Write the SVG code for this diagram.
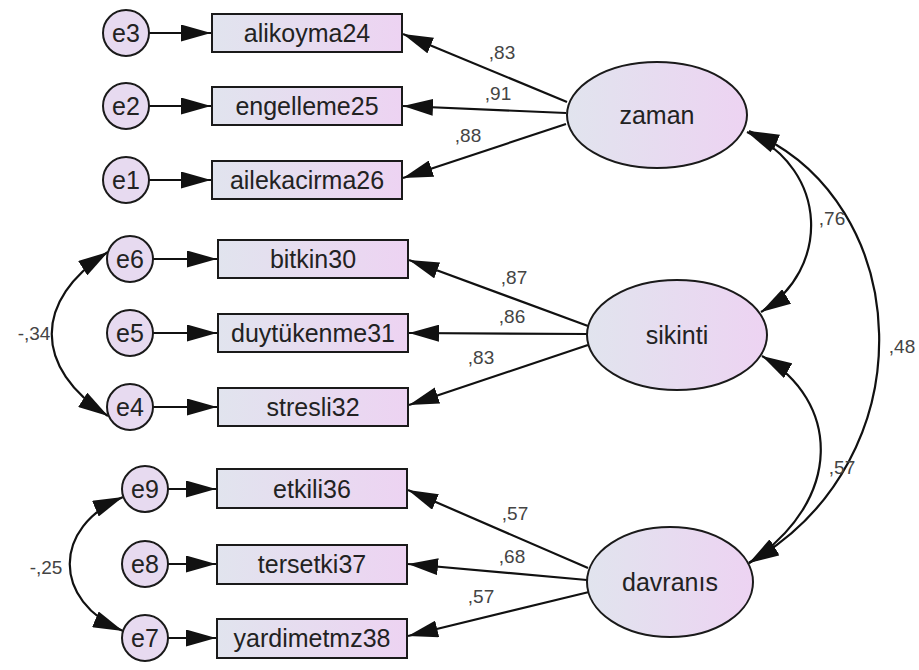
<svg xmlns="http://www.w3.org/2000/svg" width="919" height="670" viewBox="0 0 919 670">
<defs>
<linearGradient id="g" x1="0" y1="0" x2="1" y2="0">
<stop offset="0" stop-color="#e1e4ee"/>
<stop offset="1" stop-color="#edd3f2"/>
</linearGradient>
<marker id="ah" viewBox="0 0 30 17" markerWidth="30" markerHeight="17" refX="30" refY="8.5" orient="auto-start-reverse" markerUnits="userSpaceOnUse">
<path d="M0,0 L30,8.5 L0,17 z" fill="#111"/>
</marker>
<style>
.n rect,.n ellipse{fill:url(#g);stroke:#1a1a1a;stroke-width:2}
.n circle{fill:#e7daf0;stroke:#1a1a1a;stroke-width:2}
.n text{font-family:"Liberation Sans",Arial,sans-serif;font-size:25px;fill:#222;text-anchor:middle}
.c path{fill:none;stroke:#111;stroke-width:2.2}
.lab text{font-family:"Liberation Sans",Arial,sans-serif;font-size:19px;fill:#444;text-anchor:middle}
</style>
</defs>
<rect width="919" height="670" fill="#fff"/>
<g id="connectors" class="c">
<path d="M149,33 L211,33" marker-end="url(#ah)"/>
<path d="M149,106 L211,106" marker-end="url(#ah)"/>
<path d="M149,180 L211,180" marker-end="url(#ah)"/>
<path d="M153,259 L217,259" marker-end="url(#ah)"/>
<path d="M153,333 L217,333" marker-end="url(#ah)"/>
<path d="M153,407 L217,407" marker-end="url(#ah)"/>
<path d="M168,489 L216,489" marker-end="url(#ah)"/>
<path d="M168,564 L216,564" marker-end="url(#ah)"/>
<path d="M168,638 L216,638" marker-end="url(#ah)"/>
<path d="M567,102 L403,34" marker-end="url(#ah)"/>
<path d="M566,113 L403,106" marker-end="url(#ah)"/>
<path d="M566,124 L403,178" marker-end="url(#ah)"/>
<path d="M588,326 L409,260" marker-end="url(#ah)"/>
<path d="M587,334 L409,333" marker-end="url(#ah)"/>
<path d="M588,345 L409,405" marker-end="url(#ah)"/>
<path d="M588,568 L408,490" marker-end="url(#ah)"/>
<path d="M587,580 L408,564" marker-end="url(#ah)"/>
<path d="M589,592 L408,636" marker-end="url(#ah)"/>
<path d="M108,252 C33,300 33,368 108,416" marker-start="url(#ah)" marker-end="url(#ah)"/>
<path d="M123,497 C52,527 52,601 123,631" marker-start="url(#ah)" marker-end="url(#ah)"/>
<path d="M747,132 C830,170 830,270 761,312" marker-start="url(#ah)" marker-end="url(#ah)"/>
<path d="M762,356 C840,400 845,500 749,563" marker-start="url(#ah)" marker-end="url(#ah)"/>
<path d="M749,131 C915,200 930,460 749,563" marker-start="url(#ah)" marker-end="url(#ah)"/>
</g>
<g id="e3" class="n"><circle cx="126" cy="33" r="23"/><text x="126" y="42">e3</text></g>
<g id="e2" class="n"><circle cx="126" cy="106" r="23"/><text x="126" y="115">e2</text></g>
<g id="e1" class="n"><circle cx="126" cy="180" r="23"/><text x="126" y="189">e1</text></g>
<g id="e6" class="n"><circle cx="130" cy="259" r="23"/><text x="130" y="268">e6</text></g>
<g id="e5" class="n"><circle cx="130" cy="333" r="23"/><text x="130" y="342">e5</text></g>
<g id="e4" class="n"><circle cx="130" cy="407" r="23"/><text x="130" y="416">e4</text></g>
<g id="e9" class="n"><circle cx="145" cy="489" r="23"/><text x="145" y="498">e9</text></g>
<g id="e8" class="n"><circle cx="145" cy="564" r="23"/><text x="145" y="573">e8</text></g>
<g id="e7" class="n"><circle cx="145" cy="638" r="23"/><text x="145" y="647">e7</text></g>
<g id="alikoyma24" class="n"><rect x="212" y="14" width="190" height="38"/><text x="307" y="42">alikoyma24</text></g>
<g id="engelleme25" class="n"><rect x="212" y="87" width="190" height="38"/><text x="307" y="115">engelleme25</text></g>
<g id="ailekacirma26" class="n"><rect x="212" y="161" width="190" height="38"/><text x="307" y="189">ailekacirma26</text></g>
<g id="bitkin30" class="n"><rect x="218" y="240" width="190" height="38"/><text x="313" y="268">bitkin30</text></g>
<g id="duytukenme31" class="n"><rect x="218" y="314" width="190" height="38"/><text x="313" y="342">duytükenme31</text></g>
<g id="stresli32" class="n"><rect x="218" y="388" width="190" height="38"/><text x="313" y="416">stresli32</text></g>
<g id="etkili36" class="n"><rect x="217" y="469" width="190" height="39"/><text x="312" y="498">etkili36</text></g>
<g id="tersetki37" class="n"><rect x="217" y="545" width="190" height="39"/><text x="312" y="573">tersetki37</text></g>
<g id="yardimetmz38" class="n"><rect x="217" y="619" width="190" height="39"/><text x="312" y="647">yardimetmz38</text></g>
<g id="zaman" class="n"><ellipse cx="657" cy="115" rx="90" ry="53"/><text x="657" y="124">zaman</text></g>
<g id="sikinti" class="n"><ellipse cx="677" cy="335" rx="90" ry="55"/><text x="677" y="344">sikinti</text></g>
<g id="davranis" class="n"><ellipse cx="670" cy="582" rx="83" ry="55"/><text x="670" y="591">davranıs</text></g>
<g id="labels" class="lab">
<text x="502" y="59">,83</text>
<text x="498" y="100">,91</text>
<text x="468" y="142">,88</text>
<text x="514" y="284">,87</text>
<text x="512" y="323">,86</text>
<text x="481" y="364">,83</text>
<text x="515" y="520">,57</text>
<text x="512" y="563">,68</text>
<text x="481" y="603">,57</text>
<text x="34" y="340">-,34</text>
<text x="46" y="574">-,25</text>
<text x="832" y="225">,76</text>
<text x="902" y="353">,48</text>
<text x="842" y="474">,57</text>
</g>
</svg>
